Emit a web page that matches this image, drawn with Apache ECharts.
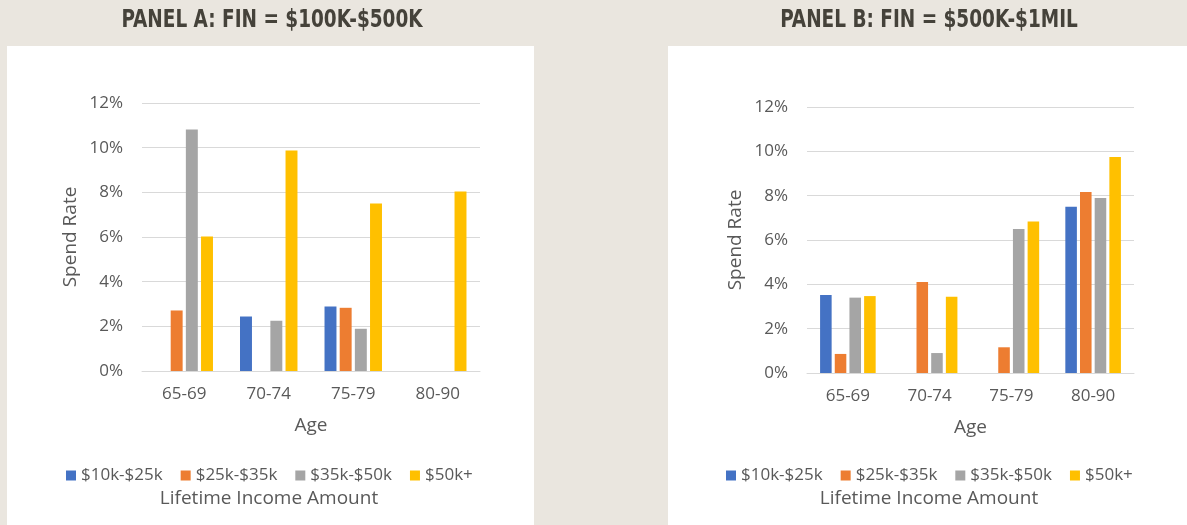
<!DOCTYPE html>
<html><head><meta charset="utf-8">
<script src="https://cdn.jsdelivr.net/npm/echarts@6/dist/echarts.min.js"></script>
<style>
html,body{margin:0;padding:0;background:#EAE6DF;width:1187px;height:525px;overflow:hidden;position:relative;}
.panel{position:absolute;background:#fff;}
#c{position:absolute;left:0;top:0;width:1187px;height:525px;}
</style>
</head><body>
<div class="panel" style="left:7px;top:46px;width:527px;height:479px;"></div>
<div class="panel" style="left:668px;top:46px;width:519px;height:479px;"></div>
<div id="c"></div>
<script>
// ---- data ----
const categories = ['65-69', '70-74', '75-79', '80-90'];
const seriesNames = ['$10k-$25k', '$25k-$35k', '$35k-$50k', '$50k+'];
const panelA_10k_25k = [null, 2.44, 2.89, null];
const panelA_25k_35k = [2.71, null, 2.83, null];
const panelA_35k_50k = [10.81, 2.25, 1.89, null];
const panelA_50kPlus = [6.02, 9.87, 7.50, 8.04];
const panelB_10k_25k = [3.52, null, null, 7.50];
const panelB_25k_35k = [0.86, 4.11, 1.16, 8.17];
const panelB_35k_50k = [3.40, 0.90, 6.50, 7.89];
const panelB_50kPlus = [3.47, 3.44, 6.83, 9.74];
const yTickValues = [0, 2, 4, 6, 8, 10, 12];
const panelTitles = ['PANEL A: FIN = $100K-$500K', 'PANEL B: FIN = $500K-$1MIL'];
const xAxisTitle = 'Age';
const yAxisTitle = 'Spend Rate';
const legendTitle = 'Lifetime Income Amount';

// ---- styles ----
const colors = ['#4472C4', '#ED7D31', '#A5A5A5', '#FFC000'];
const textColor = '#595959';
const gridColor = '#D9D9D9';
const fontFamily = '"Open Sans", sans-serif';

const panelsData = [
  [panelA_10k_25k, panelA_25k_35k, panelA_35k_50k, panelA_50kPlus],
  [panelB_10k_25k, panelB_25k_35k, panelB_35k_50k, panelB_50kPlus]
];
const grids = [
  {left: 142, top: 103, width: 338, height: 268},
  {left: 807, top: 107, width: 327, height: 266}
];
const centers = [269, 929];
const titleCenters = [272, 929];
const legendLefts = [61, 721];

const chart = echarts.init(document.getElementById('c'), null, {renderer: 'canvas'});
const yStep = yTickValues[1] - yTickValues[0];
const option = {
  backgroundColor: 'transparent',
  color: colors,
  animation: false,
  grid: grids,
  xAxis: grids.map((g, i) => ({
    type: 'category', gridIndex: i, data: categories,
    axisTick: {show: false},
    axisLine: {show: true, lineStyle: {color: gridColor, width: 1}},
    axisLabel: {color: textColor, fontSize: 17, fontFamily, margin: 15},
    name: xAxisTitle, nameLocation: 'middle', nameGap: 45,
    nameTextStyle: {color: textColor, fontSize: 19, fontFamily}
  })),
  yAxis: grids.map((g, i) => ({
    type: 'value', gridIndex: i,
    min: yTickValues[0], max: yTickValues[yTickValues.length - 1], interval: yStep,
    axisLine: {show: false}, axisTick: {show: false},
    splitLine: {lineStyle: {color: gridColor, width: 1}},
    axisLabel: {color: textColor, fontSize: 17, fontFamily, margin: 19, formatter: '{value}%'},
    name: yAxisTitle, nameLocation: 'middle', nameGap: 62, nameRotate: 90,
    nameTextStyle: {color: textColor, fontSize: 19, fontFamily}
  })),
  legend: legendLefts.map(l => ({
    data: seriesNames, left: l, top: 462, orient: 'horizontal',
    icon: 'rect', itemWidth: 10, itemHeight: 10, itemGap: 18,
    textStyle: {color: textColor, fontSize: 17, fontFamily},
    selectedMode: false
  })),
  graphic: [
    ...panelTitles.map((t, i) => ({
      type: 'text', silent: true, x: titleCenters[i], y: 21, scaleX: 0.855,
      style: {x: 0, y: 0, text: t, textAlign: 'center', textVerticalAlign: 'middle',
        font: 'bold 24px "DejaVu Sans Condensed", "DejaVu Sans", sans-serif', fill: '#45423A'}
    })),
    ...centers.map(cx => ({
      type: 'text', silent: true,
      style: {x: cx, y: 499, text: legendTitle, textAlign: 'center', textVerticalAlign: 'middle',
        font: '19px "Open Sans", sans-serif', fill: textColor}
    }))
  ],
  series: []
};
panelsData.forEach((arrs, p) => {
  arrs.forEach((vals, s) => {
    option.series.push({
      type: 'bar', name: seriesNames[s], xAxisIndex: p, yAxisIndex: p,
      data: vals, barGap: '27%', barCategoryGap: '32%',
      itemStyle: {color: colors[s]}
    });
  });
});
chart.setOption(option);
</script>
</body></html>
